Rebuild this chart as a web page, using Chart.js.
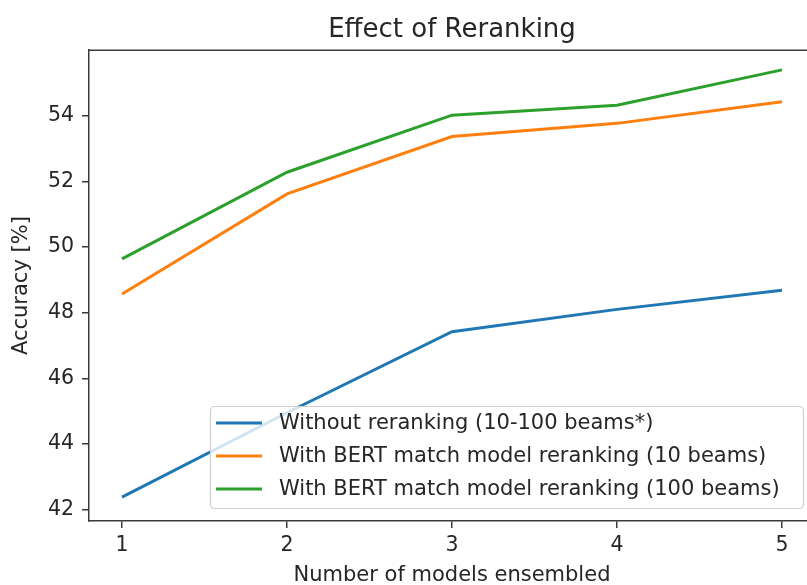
<!DOCTYPE html>
<html>
<head>
<meta charset="utf-8">
<script src="https://cdn.jsdelivr.net/npm/chart.js@4"></script>
<style>
  html, body { margin: 0; padding: 0; background: #fff; overflow: hidden; }
  canvas { display: block; }
</style>
</head>
<body>
<canvas id="chart" width="830" height="585"></canvas>
<script>
// models ensembled (x) and accuracy [%] per setting
const models = [1, 2, 3, 4, 5];
const withoutRerank = [42.38, 44.95, 47.42, 48.10, 48.68];
const bert10 = [48.57, 51.62, 53.37, 53.77, 54.43];
const bert100 = [49.64, 52.28, 54.02, 54.32, 55.40];
const xTicks = [1, 2, 3, 4, 5];
const yTicks = [42, 44, 46, 48, 50, 52, 54];

const seriesNames = [
  'Without reranking (10-100 beams*)',
  'With BERT match model reranking (10 beams)',
  'With BERT match model reranking (100 beams)'
];
const seriesColors = ['#1f77b4', '#ff7f0e', '#2ca02c'];

const FONT = "'DejaVu Sans', sans-serif";
const INK = '#262626';
const SPINE = '#3a3a3a';

function pts(ys) {
  return models.map((x, i) => ({ x: x, y: ys[i] }));
}

// top/right spines like matplotlib
const frame = {
  id: 'frame',
  afterDraw(chart) {
    const { ctx, chartArea: a } = chart;
    ctx.save();
    ctx.strokeStyle = SPINE;
    ctx.lineWidth = 1.5;
    ctx.beginPath();
    ctx.moveTo(a.left, a.top);
    ctx.lineTo(a.right, a.top);
    ctx.lineTo(a.right, a.bottom);
    ctx.stroke();
    ctx.restore();
  }
};

// legend box in the lower right of the axes
const boxLegend = {
  id: 'boxLegend',
  afterDatasetsDraw(chart) {
    const ctx = chart.ctx;
    const x0 = 210, y0 = 406, w = 593, h = 102;
    ctx.save();
    ctx.beginPath();
    ctx.roundRect(x0 + 0.5, y0 + 0.5, w, h, 4);
    ctx.fillStyle = 'rgba(255,255,255,0.8)';
    ctx.fill();
    ctx.strokeStyle = '#d0d0d0';
    ctx.lineWidth = 1.2;
    ctx.stroke();
    ctx.font = '21px ' + FONT;
    ctx.textBaseline = 'middle';
    ctx.fillStyle = INK;
    chart.data.datasets.forEach((ds, i) => {
      const y = 423 + i * 33;
      ctx.strokeStyle = ds.borderColor;
      ctx.lineWidth = 3;
      ctx.beginPath();
      ctx.moveTo(216, y);
      ctx.lineTo(262, y);
      ctx.stroke();
      ctx.fillText(ds.label, 279, y + 1);
    });
    ctx.restore();
  }
};

new Chart(document.getElementById('chart'), {
  type: 'line',
  data: {
    datasets: [
      { label: seriesNames[0], data: pts(withoutRerank), borderColor: seriesColors[0] },
      { label: seriesNames[1], data: pts(bert10), borderColor: seriesColors[1] },
      { label: seriesNames[2], data: pts(bert100), borderColor: seriesColors[2] }
    ]
  },
  options: {
    responsive: false,
    animation: false,
    devicePixelRatio: 1,
    layout: { padding: { left: 0, right: 15, top: 0, bottom: 0 } },
    elements: {
      line: { borderWidth: 3, tension: 0, fill: false },
      point: { radius: 0, hoverRadius: 0 }
    },
    plugins: {
      legend: { display: false },
      tooltip: { enabled: false },
      title: {
        display: true,
        text: 'Effect of Reranking',
        fullSize: false,
        color: INK,
        font: { family: FONT, size: 26, weight: 'normal' },
        padding: { top: 15, bottom: 4 }
      }
    },
    scales: {
      x: {
        type: 'linear',
        min: 0.8,
        max: 5.2,
        afterBuildTicks: axis => { axis.ticks = xTicks.map(v => ({ value: v })); },
        afterFit: axis => { axis.height = 64; },
        grid: { drawOnChartArea: false, drawTicks: true, tickLength: 7, color: SPINE, lineWidth: 1.5 },
        border: { display: true, color: SPINE, width: 1.5 },
        ticks: { color: INK, padding: 5, maxRotation: 0, font: { family: FONT, size: 20.5 } },
        title: {
          display: true,
          text: 'Number of models ensembled',
          color: INK,
          font: { family: FONT, size: 21 },
          padding: { top: 0, bottom: -3 }
        }
      },
      y: {
        type: 'linear',
        min: 41.65,
        max: 56.0,
        afterBuildTicks: axis => { axis.ticks = yTicks.map(v => ({ value: v })); },
        afterFit: axis => { axis.width = 89; },
        grid: { drawOnChartArea: false, drawTicks: true, tickLength: 7, color: SPINE, lineWidth: 1.5 },
        border: { display: true, color: SPINE, width: 1.5 },
        ticks: { color: INK, padding: 8, font: { family: FONT, size: 20.5 } },
        title: {
          display: true,
          text: 'Accuracy [%]',
          color: INK,
          font: { family: FONT, size: 21 },
          padding: { top: 9, bottom: 0 }
        }
      }
    }
  },
  plugins: [frame, boxLegend]
});
</script>
</body>
</html>
